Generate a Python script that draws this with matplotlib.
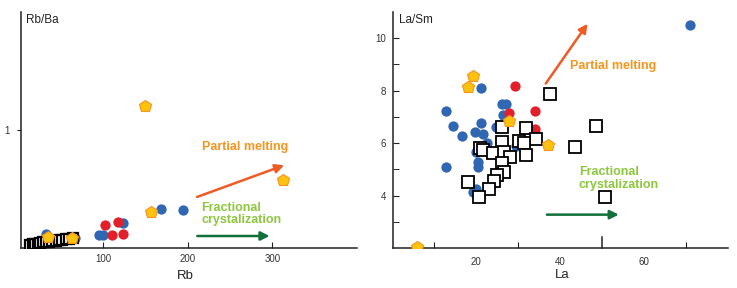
import matplotlib
matplotlib.use("Agg")
import matplotlib.pyplot as plt
import matplotlib.transforms as mtransforms

plt.rcParams['font.family'] = ['Liberation Sans', 'DejaVu Sans']

# ---------------- data: left panel (Rb vs Rb/Ba) ----------------
blue_L_x = [33, 38, 42, 47, 52, 57, 62, 67, 95, 100, 123, 169, 194]
blue_L_y = [0.125, 0.07, 0.07, 0.075, 0.08, 0.08, 0.085, 0.09, 0.11, 0.11, 0.215, 0.33, 0.32]
red_L_x = [102, 118, 110, 124]
red_L_y = [0.195, 0.22, 0.11, 0.12]
sq_L_x = [14, 17, 20, 23, 26, 29, 32, 36, 40, 44, 48, 52, 56, 60, 65]
sq_L_y = [0.03, 0.035, 0.04, 0.04, 0.045, 0.05, 0.05, 0.055, 0.06, 0.065, 0.07, 0.07, 0.075, 0.08, 0.085]
pent_L_x = [35, 63, 150, 157, 313]
pent_L_y = [0.096, 0.087, 1.20, 0.31, 0.576]

# ---------------- data: right panel (La vs La/Sm) ----------------
blue_R_x = [70.9, 12.9, 14.7, 16.8, 12.9, 21.4, 19.8, 21.2, 21.8, 22.6, 20.2, 20.6, 20.6,
            19.4, 20.2, 21.0, 26.2, 27.2, 26.6, 24.8, 32.5, 29.7, 25.0]
blue_R_y = [10.5, 7.23, 6.64, 6.28, 5.11, 8.08, 6.41, 6.76, 6.34, 6.0, 5.68, 5.3, 5.1,
            4.16, 4.25, 4.0, 7.5, 7.49, 7.08, 6.6, 6.53, 5.9, 5.65]
red_R_x = [29.3, 28.0, 34.2, 34.1]
red_R_y = [8.18, 7.14, 7.23, 6.54]
sq_R_x = [37.8, 48.6, 43.7, 50.7, 26.3, 31.9, 34.4, 30.4, 31.5, 26.2, 21.0, 21.7, 24.2,
          26.7, 28.1, 31.9, 26.2, 26.8, 25.2, 24.4, 23.2, 18.1, 20.8]
sq_R_y = [7.88, 6.66, 5.87, 3.97, 6.61, 6.58, 6.17, 6.1, 6.02, 6.06, 5.81, 5.75, 5.62,
          5.66, 5.49, 5.56, 5.24, 4.89, 4.8, 4.57, 4.27, 4.54, 3.95]
pent_R_x = [19.3, 18.1, 28.0, 37.1, 6.1]
pent_R_y = [8.56, 8.13, 6.83, 5.93, 2.05]

BLUE = '#2F67B2'
RED = '#E3202A'
PENT_FACE = '#FFC20E'
PENT_EDGE = '#F7941D'
ORANGE_ARROW = '#F05A24'
GREEN_ARROW = '#12703A'
ORANGE_TEXT = '#F7941D'
GREEN_TEXT = '#8DC63F'
AXCOL = '#222222'

W, H = 737, 288
fig = plt.figure(figsize=(W / 100, H / 100), dpi=100)

def px_axes(l, r, t, b):
    return fig.add_axes([l / W, 1 - b / H, (r - l) / W, (b - t) / H])

axL = px_axes(21, 357, 11.7, 248.3)
axR = px_axes(392.7, 728, 11.7, 248.3)

for ax in (axL, axR):
    for s in ('top', 'right'):
        ax.spines[s].set_visible(False)
    for s in ('left', 'bottom'):
        ax.spines[s].set_color(AXCOL)
        ax.spines[s].set_linewidth(1.1)
    ax.tick_params(colors=AXCOL, labelcolor='#333333', labelsize=7, width=0.8)

def draw(ax, bx, by, rx, ry, sx, sy, px, py, msz, ssz, smew):
    ax.plot(bx, by, 'o', color=BLUE, ms=msz, mec='none', zorder=3)
    ax.plot(rx, ry, 'o', color=RED, ms=msz, mec='none', zorder=4)
    ax.plot(sx, sy, 's', mfc='white', mec='black', ms=ssz, mew=smew, zorder=5)
    ax.plot(px, py, 'p', mfc=PENT_FACE, mec=PENT_EDGE, ms=msz + 1.8, mew=0.8, zorder=6)

draw(axL, blue_L_x, blue_L_y, red_L_x, red_L_y, sq_L_x, sq_L_y, pent_L_x, pent_L_y, 7.4, 7.0, 1.6)
draw(axR, blue_R_x, blue_R_y, red_R_x, red_R_y, sq_R_x, sq_R_y, pent_R_x, pent_R_y, 7.4, 8.0, 1.3)

# ---- left axes setup
axL.set_xlim(3, 400)
axL.set_ylim(0, 2)
axL.set_xticks([100, 200, 300])
axL.set_yticks([1])
axL.tick_params(axis='x', direction='in', length=4, pad=4)
axL.tick_params(axis='y', direction='out', length=3, pad=5)
axL.text(0.015, 0.965, 'Rb/Ba', transform=axL.transAxes, fontsize=8.5, color='#222222',
         ha='left', va='center')
axL.text(0.488, -0.117, 'Rb', transform=axL.transAxes, fontsize=9.5, color='#222222',
         ha='center', va='center')

axL.annotate('', xy=(317, 0.71), xytext=(208, 0.426),
             arrowprops=dict(arrowstyle='-|>', color=ORANGE_ARROW, lw=1.8, mutation_scale=13))
axL.annotate('', xy=(300, 0.104), xytext=(208, 0.104),
             arrowprops=dict(arrowstyle='-|>', color=GREEN_ARROW, lw=1.8, mutation_scale=13))
axL.text(268, 0.86, 'Partial melting', color=ORANGE_TEXT, fontsize=9, fontweight='bold',
         ha='center', va='center')
axL.text(216, 0.288, 'Fractional\ncrystalization', color=GREEN_TEXT, fontsize=9,
         fontweight='bold', ha='left', va='center', linespacing=1.05)

# ---- right axes setup
axR.set_xlim(0.3, 80)
axR.set_ylim(2, 11)
axR.set_xticks([20, 40, 60])
axR.set_xticks([10, 30, 70], minor=True)
axR.tick_params(axis='x', which='major', length=0, pad=6)
axR.tick_params(axis='x', which='minor', direction='in', length=4, width=0.8, colors=AXCOL)
axR.set_yticks([4, 6, 8, 10])
axR.set_yticks([3, 5, 7, 9], minor=True)
axR.tick_params(axis='y', which='both', direction='in', length=4, pad=5)
trans = mtransforms.blended_transform_factory(axR.transData, axR.transAxes)
axR.plot([50, 50], [0, 11 / 236.6], color=AXCOL, lw=1.1, transform=trans, clip_on=False)
axR.text(0.02, 0.965, 'La/Sm', transform=axR.transAxes, fontsize=8.5, color='#222222',
         ha='left', va='center')
axR.text(0.504, -0.113, 'La', transform=axR.transAxes, fontsize=9.5, color='#222222',
         ha='center', va='center')

axR.annotate('', xy=(47, 10.63), xytext=(36.3, 8.18),
             arrowprops=dict(arrowstyle='-|>', color=ORANGE_ARROW, lw=1.8, mutation_scale=13))
axR.annotate('', xy=(54.7, 3.28), xytext=(36.3, 3.28),
             arrowprops=dict(arrowstyle='-|>', color=GREEN_ARROW, lw=1.8, mutation_scale=13))
axR.text(52.7, 8.94, 'Partial melting', color=ORANGE_TEXT, fontsize=9, fontweight='bold',
         ha='center', va='center')
axR.text(44.5, 4.65, 'Fractional\ncrystalization', color=GREEN_TEXT, fontsize=9,
         fontweight='bold', ha='left', va='center', linespacing=1.05)

fig.savefig('out.png', dpi=100)
